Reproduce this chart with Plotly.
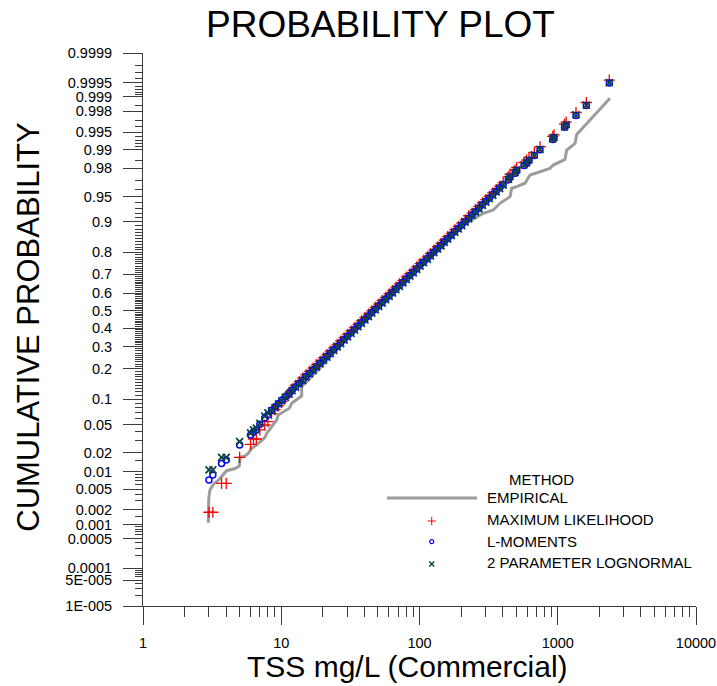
import plotly.graph_objects as go
from statistics import NormalDist

_nd = NormalDist()


def probit(p):
    return _nd.inv_cdf(p)


# ---------------- data ----------------
# empirical plotting-position curve
emp_tss = [2.97, 2.99, 3.05, 3.23, 3.51, 3.81, 4.03, 4.63, 4.97, 5.03,
           5.47, 5.78, 6.11, 6.64, 7.02, 7.63, 7.85, 8.53, 9.27, 9.52,
           10.35, 11.43, 11.9, 12.93, 14.05, 14.05, 15.28, 19.07, 24.48, 31.43,
           39.02, 47.65, 56.3, 68.8, 81.2, 97.5, 119.1, 140.7, 166.2, 207.5,
           289.4, 342, 382.2, 451.5, 464.5, 505, 579.6, 630, 743.8, 878.9,
           928.7, 1128, 1161, 1333, 1371, 2387]
emp_prob = [0.0011, 0.0034, 0.0048, 0.0061, 0.0072, 0.0088, 0.0104, 0.0113, 0.0124, 0.0171,
            0.0179, 0.0197, 0.0234, 0.0262, 0.0292, 0.0337, 0.0382, 0.0469, 0.0571, 0.0659,
            0.0722, 0.0792, 0.0904, 0.0984, 0.1088, 0.1382, 0.1524, 0.2036, 0.2750, 0.3623,
            0.4575, 0.5265, 0.5835, 0.6442, 0.6862, 0.7308, 0.7763, 0.8208, 0.8561, 0.8918,
            0.9200, 0.9268, 0.9393, 0.9500, 0.9613, 0.9632, 0.9670, 0.9749, 0.9776, 0.9800,
            0.9822, 0.9855, 0.9898, 0.9921, 0.9945, 0.99891]

# observed TSS values (mg/L)
obs_tss = [3.0, 3.2, 3.7, 4.0, 5.0, 6.0, 6.3, 6.6, 7.0, 7.6, 8.0,
           8.51, 9.02, 9.55, 10.1, 10.7, 11.4, 12.0, 12.7, 13.5, 14.3,
           15.1, 16.0, 17.0, 18.0, 19.1, 20.2, 21.4, 22.6, 24.0, 25.4,
           26.9, 28.5, 30.2, 32.0, 33.9, 35.9, 38.0, 40.3, 42.7, 45.2,
           47.9, 50.7, 53.7, 56.9, 60.3, 63.8, 67.6, 71.6, 75.9, 80.4,
           85.1, 90.2, 95.5, 101, 107, 114, 120, 127, 135, 143,
           151, 160, 170, 180, 191, 202, 214, 227, 240, 254,
           269, 285, 302, 320, 339, 359, 380, 403,
           439, 451, 491, 505, 570, 596, 619, 677, 744, 920,
           940, 1120, 1150, 1355, 1609, 2360]

# fitted cumulative probability, maximum likelihood
p_ml = [0.0018, 0.0018, 0.0063, 0.0063, 0.0171, 0.0268, 0.0319, 0.0319, 0.0424, 0.0493, 0.0544,
        0.0683, 0.0764, 0.0851, 0.0946, 0.1049, 0.1160, 0.1278, 0.1405, 0.1528, 0.1645,
        0.1770, 0.1898, 0.2034, 0.2174, 0.2319, 0.2471, 0.2626, 0.2788, 0.2953, 0.3123,
        0.3298, 0.3476, 0.3657, 0.3841, 0.4029, 0.4217, 0.4409, 0.4601, 0.4795, 0.4989,
        0.5183, 0.5376, 0.5569, 0.5760, 0.5950, 0.6138, 0.6323, 0.6504, 0.6682, 0.6857,
        0.7027, 0.7193, 0.7356, 0.7512, 0.7664, 0.7810, 0.7951, 0.8086, 0.8216, 0.8341,
        0.8458, 0.8571, 0.8678, 0.8780, 0.8876, 0.8966, 0.9050, 0.9146, 0.9204, 0.9274,
        0.9339, 0.9399, 0.9455, 0.9506, 0.9554, 0.9598, 0.9639, 0.9675,
        0.97332, 0.97555, 0.97868, 0.98059, 0.98376, 0.98506, 0.98647, 0.98878, 0.99099, 0.99403,
        0.99443, 0.99644, 0.99674, 0.99788, 0.99867, 0.99956]

# fitted cumulative probability, L-moments
p_lmom = [0.0072, 0.0088, 0.0137, 0.0155, 0.0262, 0.0362, 0.0398, 0.0424, 0.0505, 0.0605, 0.0659,
          0.0751, 0.0823, 0.0899, 0.0980, 0.1067, 0.1160, 0.1258, 0.1361, 0.1470, 0.1585,
          0.1706, 0.1832, 0.1964, 0.2101, 0.2243, 0.2392, 0.2545, 0.2704, 0.2867, 0.3035,
          0.3208, 0.3383, 0.3563, 0.3746, 0.3932, 0.4120, 0.4311, 0.4502, 0.4695, 0.4889,
          0.5083, 0.5277, 0.5471, 0.5663, 0.5853, 0.6042, 0.6228, 0.6411, 0.6591, 0.6767,
          0.6941, 0.7109, 0.7273, 0.7433, 0.7586, 0.7736, 0.7879, 0.8017, 0.8150, 0.8277,
          0.8398, 0.8514, 0.8624, 0.8729, 0.8827, 0.8920, 0.9007, 0.9089, 0.9167, 0.9239,
          0.9307, 0.9369, 0.9426, 0.9480, 0.9530, 0.9576, 0.9618, 0.9657,
          0.97053, 0.97296, 0.97637, 0.97846, 0.98192, 0.98334, 0.98489, 0.98744, 0.98988, 0.99325,
          0.99370, 0.99595, 0.99629, 0.99758, 0.99847, 0.99949]

# fitted cumulative probability, 2 parameter lognormal
p_ln2 = [0.0107, 0.0107, 0.0171, 0.0171, 0.0292, 0.0386, 0.0424, 0.0450, 0.0519, 0.0640, 0.0697,
         0.0737, 0.0808, 0.0883, 0.0963, 0.1049, 0.1140, 0.1237, 0.1339, 0.1447, 0.1560,
         0.1680, 0.1805, 0.1936, 0.2072, 0.2213, 0.2361, 0.2513, 0.2671, 0.2833, 0.3000,
         0.3172, 0.3347, 0.3526, 0.3708, 0.3893, 0.4081, 0.4272, 0.4463, 0.4655, 0.4849,
         0.5043, 0.5237, 0.5431, 0.5623, 0.5814, 0.6003, 0.6190, 0.6373, 0.6554, 0.6731,
         0.6906, 0.7074, 0.7240, 0.7400, 0.7555, 0.7706, 0.7850, 0.7989, 0.8124, 0.8252,
         0.8374, 0.8491, 0.8602, 0.8708, 0.8807, 0.8901, 0.8990, 0.9073, 0.9152, 0.9224,
         0.9293, 0.9356, 0.9415, 0.9470, 0.9520, 0.9567, 0.9610, 0.9650,
         0.97101, 0.97341, 0.97676, 0.97883, 0.98224, 0.98364, 0.98517, 0.98767, 0.99007, 0.99339,
         0.99383, 0.99602, 0.99637, 0.99763, 0.99850, 0.99950]

# axis ticks
x_major = [1, 10, 100, 1000, 10000]
x_labels = ['1', '10', '100', '1000', '10000']
y_major = [0.9999, 0.9995, 0.999, 0.998, 0.995, 0.99, 0.98, 0.95, 0.9, 0.8, 0.7, 0.6, 0.5,
           0.4, 0.3, 0.2, 0.1, 0.05, 0.02, 0.01, 0.005, 0.002, 0.001, 0.0005, 0.0001,
           0.00005, 0.00001]
y_labels = ['0.9999', '0.9995', '0.999', '0.998', '0.995', '0.99', '0.98', '0.95', '0.9',
            '0.8', '0.7', '0.6', '0.5', '0.4', '0.3', '0.2', '0.1', '0.05', '0.02', '0.01',
            '0.005', '0.002', '0.001', '0.0005', '0.0001', '5E-005', '1E-005']
y_minor_hi = [0.9998, 0.9997, 0.9996, 0.9994, 0.9993, 0.9992, 0.9991, 0.9985, 0.997, 0.996,
              0.994, 0.993, 0.992, 0.991, 0.985, 0.97, 0.96, 0.94, 0.93, 0.92, 0.91]
y_minor_lo = [0.09, 0.08, 0.07, 0.06, 0.04, 0.03, 0.015, 0.009, 0.008, 0.007, 0.006, 0.004,
              0.003, 0.0015, 0.0009, 0.0008, 0.0007, 0.0006, 0.0004, 0.0003, 0.0002,
              0.00009, 0.00008, 0.00007, 0.00006, 0.00004, 0.00003, 0.00002]

series_names = ['EMPIRICAL', 'MAXIMUM LIKELIHOOD', 'L-MOMENTS', '2 PARAMETER LOGNORMAL']

# ---------------- figure ----------------
FONT = 'Liberation Sans, Arial, Helvetica, sans-serif'
AX = '#3c3c3c'
GREY = '#9c9c9c'
RED = '#ff0000'
BLUE = '#0000ff'
TEAL = '#0a4545'

fig = go.Figure()

fig.add_trace(go.Scatter(
    x=emp_tss, y=[probit(p) for p in emp_prob], mode='lines',
    line=dict(color=GREY, width=3), name=series_names[0], hoverinfo='skip'))

fig.add_trace(go.Scatter(
    x=obs_tss, y=[probit(p) for p in p_ml], mode='markers', name=series_names[1],
    marker=dict(symbol='cross-thin-open', size=8, color=RED, line=dict(color=RED, width=1.3))))

fig.add_trace(go.Scatter(
    x=obs_tss, y=[probit(p) for p in p_lmom], mode='markers', name=series_names[2],
    marker=dict(symbol='circle-open', size=6, color=BLUE, line=dict(color=BLUE, width=1.5))))

fig.add_trace(go.Scatter(
    x=obs_tss, y=[probit(p) for p in p_ln2], mode='markers', name=series_names[3],
    marker=dict(symbol='x-thin-open', size=7, color=TEAL, line=dict(color=TEAL, width=1.8))))

# hand-drawn legend keys on an overlay axis spanning the plot area (0..1)
fig.add_trace(go.Scatter(
    x=[0.4412, 0.6040], y=[0.1953, 0.1953], mode='lines', xaxis='x2', yaxis='y2',
    line=dict(color=GREY, width=3), hoverinfo='skip'))
fig.add_trace(go.Scatter(
    x=[0.5221], y=[0.1537], mode='markers', xaxis='x2', yaxis='y2', hoverinfo='skip',
    marker=dict(symbol='cross-thin-open', size=6, color=RED, line=dict(color=RED, width=1))))
fig.add_trace(go.Scatter(
    x=[0.5221], y=[0.1163], mode='markers', xaxis='x2', yaxis='y2', hoverinfo='skip',
    marker=dict(symbol='circle-open', size=4, color=BLUE, line=dict(color=BLUE, width=1.2))))
fig.add_trace(go.Scatter(
    x=[0.5221], y=[0.0760], mode='markers', xaxis='x2', yaxis='y2', hoverinfo='skip',
    marker=dict(symbol='x-thin-open', size=5, color=TEAL, line=dict(color=TEAL, width=1.5))))

x_minor = [m * d for d in (1, 10, 100, 1000) for m in range(2, 10)]
y_minor = y_minor_hi + [a / 100 for a in range(89, 10, -1) if a % 10] + y_minor_lo

fig.update_layout(
    width=717, height=686,
    margin=dict(l=143, r=21, t=53, b=80, pad=0, autoexpand=False),
    plot_bgcolor='white', paper_bgcolor='white',
    showlegend=False,
    font=dict(family=FONT, color='black', size=14),
    xaxis=dict(
        type='log', range=[0, 4], showgrid=False, zeroline=False, automargin=False,
        showline=True, linecolor=AX, linewidth=1,
        tickmode='array', tickvals=x_major, ticktext=x_labels,
        ticks='outside', ticklen=18, tickwidth=1, tickcolor=AX,
        tickfont=dict(size=14.5, family=FONT, color='black'),
        ticklabelstandoff=6,
        minor=dict(tickmode='array', tickvals=x_minor, ticks='outside', ticklen=10,
                   tickwidth=1, tickcolor=AX, showgrid=False),
    ),
    yaxis=dict(
        range=[probit(0.00001), probit(0.9999)], showgrid=False, zeroline=False,
        automargin=False,
        showline=True, linecolor=AX, linewidth=1,
        tickmode='array', tickvals=[probit(p) for p in y_major], ticktext=y_labels,
        ticks='outside', ticklen=19, tickwidth=1, tickcolor=AX,
        tickfont=dict(size=14.5, family=FONT, color='black'),
        ticklabelstandoff=8,
        minor=dict(tickmode='array', tickvals=[probit(p) for p in y_minor], ticks='outside',
                   ticklen=7, tickwidth=1, tickcolor=AX, showgrid=False),
    ),
    xaxis2=dict(overlaying='x', range=[0, 1], visible=False, fixedrange=True, automargin=False),
    yaxis2=dict(overlaying='y', range=[0, 1], visible=False, fixedrange=True, automargin=False),
)

ann = [
    dict(text='PROBABILITY PLOT', x=0.4286, y=1.052, font=dict(size=37), xanchor='center'),
    dict(text='TSS mg/L (Commercial)', x=0.4774, y=-0.1085, font=dict(size=30), xanchor='center'),
    dict(text='CUMULATIVE PROBABILITY', x=-0.2075, y=0.5036, font=dict(size=31),
         textangle=-90, xanchor='center'),
    dict(text='METHOD', x=0.7215, y=0.2288, font=dict(size=15), xanchor='center'),
]
for a in ann:
    fig.add_annotation(xref='paper', yref='paper', showarrow=False, yanchor='middle', **a)

legend_y = [0.1962, 0.1564, 0.1163, 0.0778]
for name, yy in zip(series_names, legend_y):
    fig.add_annotation(xref='paper', yref='paper', showarrow=False, text=name,
                       x=0.6184, y=yy, xanchor='left', yanchor='middle',
                       font=dict(size=15))

fig.write_html('out.html',
               config={'displayModeBar': False, 'staticPlot': True},
               post_script="document.body.style.margin='0';document.body.style.overflow='hidden';")
